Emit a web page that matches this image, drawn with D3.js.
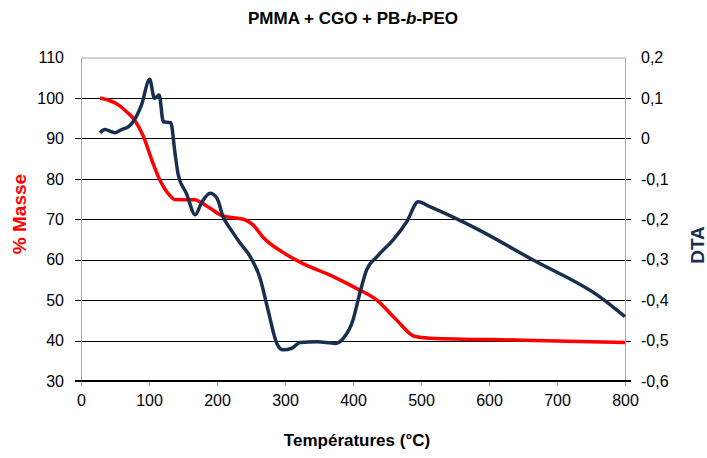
<!DOCTYPE html>
<html lang="fr">
<head>
<meta charset="UTF-8">
<script src="https://d3js.org/d3.v7.min.js"></script>
<title>PMMA + CGO + PB-b-PEO</title>
<style>
  body { margin: 0; background: #fff; }
  text { font-family: "Liberation Sans", Arial, sans-serif; }
</style>
</head>
<body>
<script>
// % Masse (left axis) vs temperature
var masseT = [28, 55, 67, 79, 92, 104, 116, 131, 138, 168, 175, 190, 209, 239, 253, 268, 297, 322, 371, 405, 435, 464, 491, 513, 650, 800]
var masseV = [100, 98.3, 96.6, 94.5, 90.4, 84.7, 79.7, 75.8, 74.9, 74.8, 74.3, 72.7, 70.8, 70, 68.6, 65.5, 61.8, 59.4, 55.8, 52.9, 50, 45.1, 41, 40.6, 40.1, 39.5]

// DTA (right axis) vs temperature
var dtaT = [28, 35, 50, 60, 70, 79, 89, 101, 108, 115, 121, 132, 138, 143, 155, 168, 177, 190, 200, 209, 219, 234, 249, 263, 275, 288, 297, 310, 322, 347, 374, 386, 400, 410, 420, 435, 459, 479, 496, 513, 580, 665, 763, 800]
var dtaV = [0.014, 0.022, 0.014, 0.022, 0.029, 0.047, 0.083, 0.146, 0.099, 0.107, 0.041, 0.039, -0.033, -0.09, -0.136, -0.189, -0.16, -0.136, -0.148, -0.194, -0.222, -0.259, -0.293, -0.344, -0.424, -0.507, -0.523, -0.519, -0.505, -0.503, -0.507, -0.494, -0.449, -0.383, -0.325, -0.293, -0.251, -0.206, -0.157, -0.169, -0.222, -0.301, -0.392, -0.441]

var xTicks = [0, 100, 200, 300, 400, 500, 600, 700, 800]
var leftTicks = [30, 40, 50, 60, 70, 80, 90, 100, 110]
var rightTicks = [-0.6, -0.5, -0.4, -0.3, -0.2, -0.1, 0, 0.1, 0.2]

var width = 707, height = 458
var plotL = 81, plotR = 625, plotT = 57.5, plotB = 381

var svg = d3.select("body").append("svg")
    .attr("width", width)
    .attr("height", height)

var x = d3.scaleLinear().domain([0, 800]).range([plotL, plotR])
var yL = d3.scaleLinear().domain([30, 110]).range([plotB, plotT])
var yR = d3.scaleLinear().domain([-0.6, 0.2]).range([plotB, plotT])

// gridlines (they poke out past both axes as tick marks)
svg.append("g")
    .selectAll("line")
    .data(leftTicks.filter(function (d) { return d > 30 && d < 110 }))
    .enter()
    .append("line")
    .attr("x1", plotL - 6)
    .attr("x2", plotR + 6)
    .attr("y1", function (d) { return Math.round(yL(d)) + 0.5 })
    .attr("y2", function (d) { return Math.round(yL(d)) + 0.5 })
    .attr("stroke", "#000")
    .attr("stroke-width", 1)

// plot frame (grey)
svg.append("path")
    .attr("d", "M" + (plotL + 0.5) + "," + (plotB + 4) + "V" + (plotT + 0.5) + "H" + (plotR + 0.5) + "V" + (plotB + 4))
    .attr("fill", "none")
    .attr("stroke", "#a6a6a6")
    .attr("stroke-width", 1)

// x axis
var xAxis = svg.append("g")
    .attr("transform", "translate(0," + plotB + ")")
    .call(d3.axisBottom(x).tickValues(xTicks).tickSize(5).tickSizeOuter(0).tickPadding(9))
xAxis.select(".domain").remove()
xAxis.selectAll(".tick line").attr("stroke", "#a6a6a6")
xAxis.selectAll("text").attr("font-size", "16px").attr("fill", "#000")
    .attr("font-family", "Liberation Sans, Arial, sans-serif")
svg.append("line")
    .attr("x1", plotL - 6).attr("x2", plotR + 6)
    .attr("y1", plotB).attr("y2", plotB)
    .attr("stroke", "#000").attr("stroke-width", 2)

// left axis labels
svg.append("g")
    .selectAll("text")
    .data(leftTicks)
    .enter()
    .append("text")
    .attr("x", plotL - 17)
    .attr("y", function (d) { return yL(d) })
    .attr("dy", "0.36em")
    .attr("text-anchor", "end")
    .attr("font-size", "16px")
    .text(function (d) { return d })

// right axis labels
var fmt = d3.format(".1f")
svg.append("g")
    .selectAll("text")
    .data(rightTicks)
    .enter()
    .append("text")
    .attr("x", plotR + 16)
    .attr("y", function (d) { return yR(d) })
    .attr("dy", "0.36em")
    .attr("font-size", "16px")
    .text(function (d) { return d === 0 ? "0" : fmt(d).replace(".", ",").replace("\u2212", "-") })

// curves
var lineMasse = d3.line()
    .x(function (d, i) { return x(masseT[i]) })
    .y(function (d) { return yL(d) })
    .curve(d3.curveMonotoneX)
var lineDta = d3.line()
    .x(function (d, i) { return x(dtaT[i]) })
    .y(function (d) { return yR(d) })
    .curve(d3.curveMonotoneX)

svg.append("path")
    .datum(masseV)
    .attr("d", lineMasse)
    .attr("fill", "none")
    .attr("stroke", "#ff0000")
    .attr("stroke-width", 3.5)
    .attr("stroke-linejoin", "round")

svg.append("path")
    .datum(dtaV)
    .attr("d", lineDta)
    .attr("fill", "none")
    .attr("stroke", "#17304f")
    .attr("stroke-width", 3.5)
    .attr("stroke-linejoin", "round")

// titles
var title = svg.append("text")
    .attr("x", 353)
    .attr("y", 24)
    .attr("text-anchor", "middle")
    .attr("font-size", "17px")
    .attr("font-weight", "bold")
title.append("tspan").text("PMMA + CGO + PB-")
title.append("tspan").attr("font-style", "italic").text("b")
title.append("tspan").text("-PEO")

svg.append("text")
    .attr("x", 357)
    .attr("y", 446)
    .attr("text-anchor", "middle")
    .attr("font-size", "17px")
    .attr("font-weight", "bold")
    .text("Températures (°C)")

svg.append("text")
    .attr("transform", "translate(26,214) rotate(-90)")
    .attr("text-anchor", "middle")
    .attr("font-size", "19px")
    .attr("font-weight", "bold")
    .attr("fill", "#ff0000")
    .text("% Masse")

svg.append("text")
    .attr("transform", "translate(704,245) rotate(-90)")
    .attr("text-anchor", "middle")
    .attr("font-size", "19px")
    .attr("font-weight", "bold")
    .attr("fill", "#17304f")
    .text("DTA")
</script>
</body>
</html>
